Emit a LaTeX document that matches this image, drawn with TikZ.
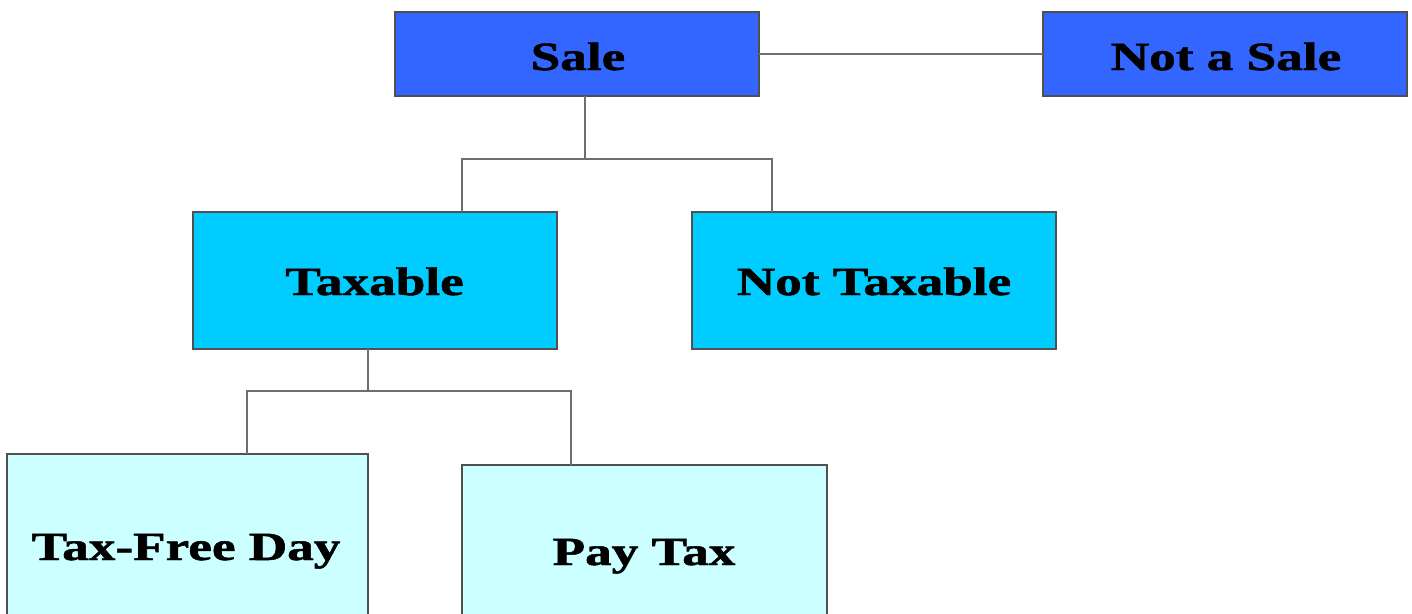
\documentclass[tikz,border=0pt]{standalone}
\usepackage{fontspec}
\setmainfont{Liberation Serif}[BoldFeatures={FakeBold=1.2}]
\usetikzlibrary{calc}
\definecolor{saleblue}{HTML}{3366FF}
\definecolor{taxcyan}{HTML}{00CCFF}
\definecolor{palecyan}{HTML}{CCFFFF}
\definecolor{linegray}{HTML}{6E6E6E}
\definecolor{edgegray}{HTML}{505050}
\newcommand{\lbl}[1]{\scalebox{1.33}[1]{\fontsize{40}{48}\selectfont\bfseries #1}}
\tikzset{
  x=1pt, y=-1pt,
  box/.style={draw=edgegray, line width=1.4pt, inner sep=0pt, outer sep=0pt},
  topbox/.style={box, fill=saleblue, minimum width=364pt, minimum height=84pt},
  midbox/.style={box, fill=taxcyan, minimum width=364pt, minimum height=137pt},
  lowbox/.style={box, fill=palecyan, minimum height=200pt},
  conn/.style={draw=linegray, line width=2pt},
  txt/.style={inner sep=0pt, text=black, anchor=base}
}
\begin{document}
\begin{tikzpicture}
\useasboundingbox (0,0) rectangle (1412,613);
\clip (0,0) rectangle (1412,613);
% boxes
\node[topbox] (sale) at (577,54) {};
\node[topbox] (notsale) at (1225,54) {};
\node[midbox] (taxable) at (375,280.5) {};
\node[midbox] (nottaxable) at (874,280.5) {};
\node[lowbox, minimum width=361pt, anchor=north] (tfd) at (187.5,454) {};
\node[lowbox, minimum width=365pt, anchor=north] (paytax) at (644.5,465) {};
% labels
\node[txt] (saletext) at (578,70) {\lbl{Sale}};
\node[txt] (notsaletext) at (1226,70) {\lbl{Not a Sale}};
\node[txt] (taxabletext) at (374.5,295) {\lbl{Taxable}};
\node[txt] (nottaxabletext) at (874,295) {\lbl{Not Taxable}};
\node[txt] (tfdtext) at (186,560) {\lbl{Tax-Free Day}};
\node[txt] (paytaxtext) at (644,565) {\lbl{Pay Tax}};
% junctions
\coordinate (j1) at (585,159);
\coordinate (j2) at (368,391);
% connectors
\draw[conn] (sale.east) -- (notsale.west);
\draw[conn] (sale.south -| j1) -- (j1);
\draw[conn] ($(taxable.north)+(87,0)$) |- (j1) -| ($(nottaxable.north)+(-102,0)$);
\draw[conn] (taxable.south -| j2) -- (j2);
\draw[conn] ($(tfd.north)+(59.5,0)$) |- (j2) -| ($(paytax.north)+(-73.5,0)$);
\end{tikzpicture}
\end{document}
